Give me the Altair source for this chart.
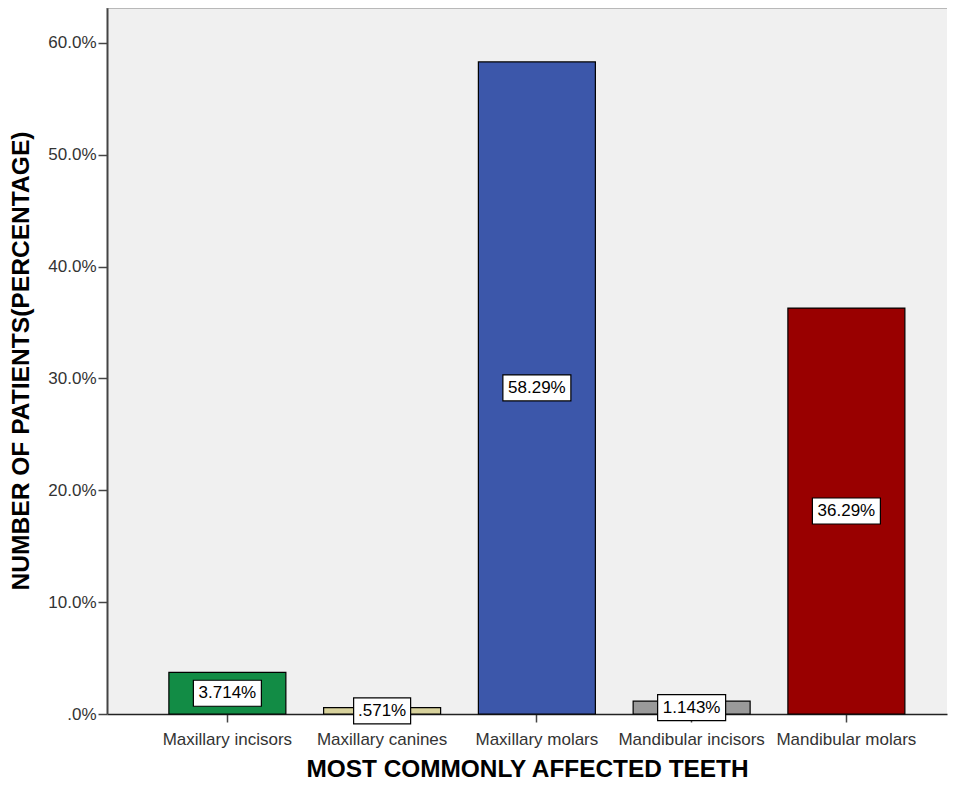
import altair as alt
import pandas as pd

categories = ["Maxillary incisors", "Maxillary canines", "Maxillary molars",
              "Mandibular incisors", "Mandibular molars"]
values = [0.03714, 0.00571, 0.5829, 0.01143, 0.3629]
value_labels = ["3.714%", ".571%", "58.29%", "1.143%", "36.29%"]
bar_colors = ["#128c45", "#d8d29c", "#3c57aa", "#9a9a9a", "#990000"]
y_ticks = [0, 0.1, 0.2, 0.3, 0.4, 0.5, 0.6]

df = pd.DataFrame({"cat": categories, "value": values, "label": value_labels})

W, H = 840, 707
FONT = "Liberation Sans"

x_enc = alt.X(
    "cat:N", sort=categories,
    scale=alt.Scale(paddingInner=0.244, paddingOuter=0.336, align=0.595),
    axis=alt.Axis(
        title="MOST COMMONLY AFFECTED TEETH", labelAngle=0, labelFontSize=17,
        labelColor="#333333", labelFont=FONT, tickSize=8, tickColor="#444444",
        tickWidth=1.5, domainColor="#222222", domainWidth=1.5, labelPadding=9,
        titleFont=FONT, titleFontSize=24.4, titleFontWeight="bold",
        titleColor="black", titlePadding=10, labelLimit=300,
    ),
)

y_scale = alt.Scale(domain=[0, 0.632], nice=False, zero=True)

base = alt.Chart(df)

bars = base.mark_bar(stroke="black", strokeWidth=1.2).encode(
    x=x_enc,
    y=alt.Y(
        "value:Q", scale=y_scale,
        axis=alt.Axis(
            title="NUMBER OF PATIENTS(PERCENTAGE)", values=y_ticks, grid=False,
            labelExpr="datum.value == 0 ? '.0%' : format(datum.value, '.1%')",
            labelFontSize=17, labelFont=FONT, labelColor="#333333",
            tickSize=9, tickColor="#444444", tickWidth=1.5, labelPadding=2,
            domainColor="#444444", domainWidth=2,
            titleFont=FONT, titleFontSize=24.6, titleFontWeight="bold",
            titleColor="black", titlePadding=14,
        ),
    ),
    color=alt.Color("cat:N", sort=categories,
                    scale=alt.Scale(domain=categories, range=bar_colors),
                    legend=None),
)

boxes = base.transform_calculate(
    mid="datum.value / 2", bw="length(datum.label) * 11 + 2"
).mark_bar(fill="white", stroke="black", strokeWidth=1.2,
           yOffset=13, y2Offset=-13).encode(
    x=alt.X("cat:N", sort=categories),
    y=alt.Y("mid:Q", scale=y_scale),
    y2="mid:Q",
    size=alt.Size("bw:Q", scale=None),
)

texts = base.transform_calculate(mid="datum.value / 2").mark_text(
    fontSize=17, font=FONT, color="black", baseline="middle", align="center"
).encode(
    x=alt.X("cat:N", sort=categories),
    y=alt.Y("mid:Q", scale=y_scale),
    text="label:N",
)

top_border = alt.Chart(pd.DataFrame({"a": [0]})).mark_rule(
    color="#808080", strokeWidth=3
).encode(x=alt.value(0), x2=alt.value(W), y=alt.value(0))

chart = alt.layer(bars, boxes, texts, top_border).properties(
    width=W, height=H, padding={"left": 0, "top": -3, "right": 0, "bottom": -1},
    background="white",
).configure_view(fill="#f0f0f0", strokeWidth=0)

chart.save("out.html", embed_options={"renderer": "svg", "actions": False})
